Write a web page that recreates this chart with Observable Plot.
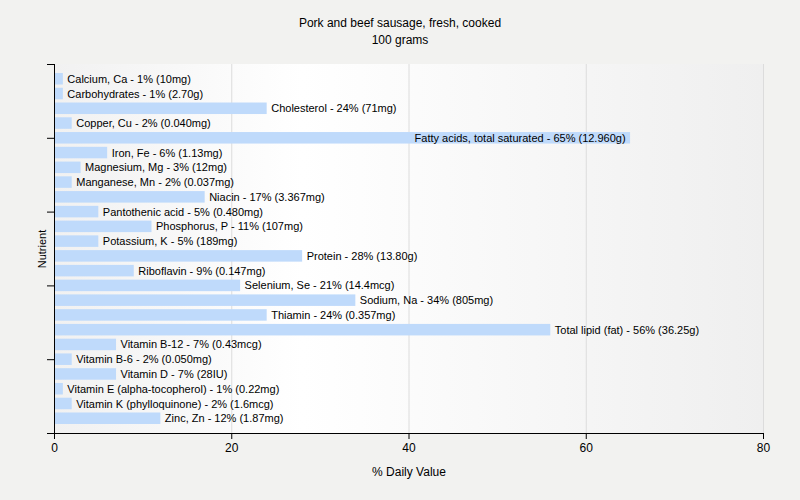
<!DOCTYPE html>
<html>
<head>
<meta charset="utf-8">
<script src="https://cdn.jsdelivr.net/npm/d3@7"></script>
<script src="https://cdn.jsdelivr.net/npm/@observablehq/plot@0.6"></script>
<style>
  html, body { margin: 0; padding: 0; background: #f2f2f0; }
  #title { width: 800px; text-align: center; font-family: "Liberation Sans", Arial, sans-serif; font-size: 12px; line-height: 17px; padding-top: 15px; color: #000; }
  #chart svg { display: block; }
</style>
</head>
<body>
<div id="title">Pork and beef sausage, fresh, cooked<br>100 grams</div>
<div id="chart"></div>
<script>
const nutrients = [
  "Calcium, Ca", "Carbohydrates", "Cholesterol", "Copper, Cu", "Fatty acids, total saturated",
  "Iron, Fe", "Magnesium, Mg", "Manganese, Mn", "Niacin", "Pantothenic acid",
  "Phosphorus, P", "Potassium, K", "Protein", "Riboflavin", "Selenium, Se",
  "Sodium, Na", "Thiamin", "Total lipid (fat)", "Vitamin B-12", "Vitamin B-6",
  "Vitamin D", "Vitamin E (alpha-tocopherol)", "Vitamin K (phylloquinone)", "Zinc, Zn"
];
const dailyValues = [1, 1, 24, 2, 65, 6, 3, 2, 17, 5, 11, 5, 28, 9, 21, 34, 24, 56, 7, 2, 7, 1, 2, 12];
const amounts = [
  "10mg", "2.70g", "71mg", "0.040mg", "12.960g",
  "1.13mg", "12mg", "0.037mg", "3.367mg", "0.480mg",
  "107mg", "189mg", "13.80g", "0.147mg", "14.4mcg",
  "805mg", "0.357mg", "36.25g", "0.43mcg", "0.050mg",
  "28IU", "0.22mg", "1.6mcg", "1.87mg"
];
const xTicks = [0, 20, 40, 60, 80];
const yTicks = [-1, 4, 9, 14, 19, 24];

const data = nutrients.map((n, i) => ({
  i, name: n, value: dailyValues[i],
  label: `${n} - ${dailyValues[i]}% (${amounts[i]})`
}));
const inside = d => d.value > 60;

const background = (index, scales, values, dim) => {
  const g = d3.create("svg:g");
  const id = "bggrad";
  const grad = g.append("defs").append("linearGradient").attr("id", id).attr("x1", "0").attr("x2", "1").attr("y1", "0").attr("y2", "0");
  grad.append("stop").attr("offset", "0%").attr("stop-color", "#f1f1f1");
  grad.append("stop").attr("offset", "35%").attr("stop-color", "#ffffff");
  grad.append("stop").attr("offset", "100%").attr("stop-color", "#efefef");
  g.append("rect")
    .attr("x", dim.marginLeft).attr("y", dim.marginTop)
    .attr("width", dim.width - dim.marginLeft - dim.marginRight)
    .attr("height", dim.height - dim.marginTop - dim.marginBottom)
    .attr("fill", `url(#${id})`);
  return g.node();
};

const chart = Plot.plot({
  width: 800,
  height: 451,
  marginTop: 15,
  marginBottom: 67,
  marginLeft: 54,
  marginRight: 37,
  style: { fontFamily: "Liberation Sans, Arial, sans-serif", fontSize: "12px", background: "transparent", color: "#000" },
  x: { domain: [0, 80] },
  y: { domain: [-1, 24], reverse: true },
  marks: [
    background,
    Plot.gridX(xTicks, { stroke: "#dcdcdc", strokeOpacity: 1 }),
    Plot.rect(data, { x1: 0, x2: "value", y1: d => d.i - 0.39, y2: d => d.i + 0.39, fill: "#bfdafb" }),
    Plot.text(data.filter(d => !inside(d)), { x: "value", y: "i", text: "label", textAnchor: "start", dx: 4, fontSize: 11, fill: "#000" }),
    Plot.text(data.filter(inside), { x: "value", y: "i", text: "label", textAnchor: "end", dx: -5, fontSize: 11, fill: "#000" }),
    Plot.axisX({ ticks: xTicks, tickSize: 6, tickPadding: 4, fontSize: 12, label: "% Daily Value", labelArrow: "none", labelAnchor: "center", labelOffset: 42 }),
    Plot.axisY({ ticks: yTicks, tickFormat: () => "", tickSize: 7, label: "Nutrient", labelArrow: "none", labelAnchor: "center", labelOffset: 16, fontSize: 11 }),
    Plot.ruleX([0], { stroke: "#000" }),
    Plot.ruleY([24], { stroke: "#000" })
  ]
});
document.getElementById("chart").appendChild(chart);
</script>
</body>
</html>
